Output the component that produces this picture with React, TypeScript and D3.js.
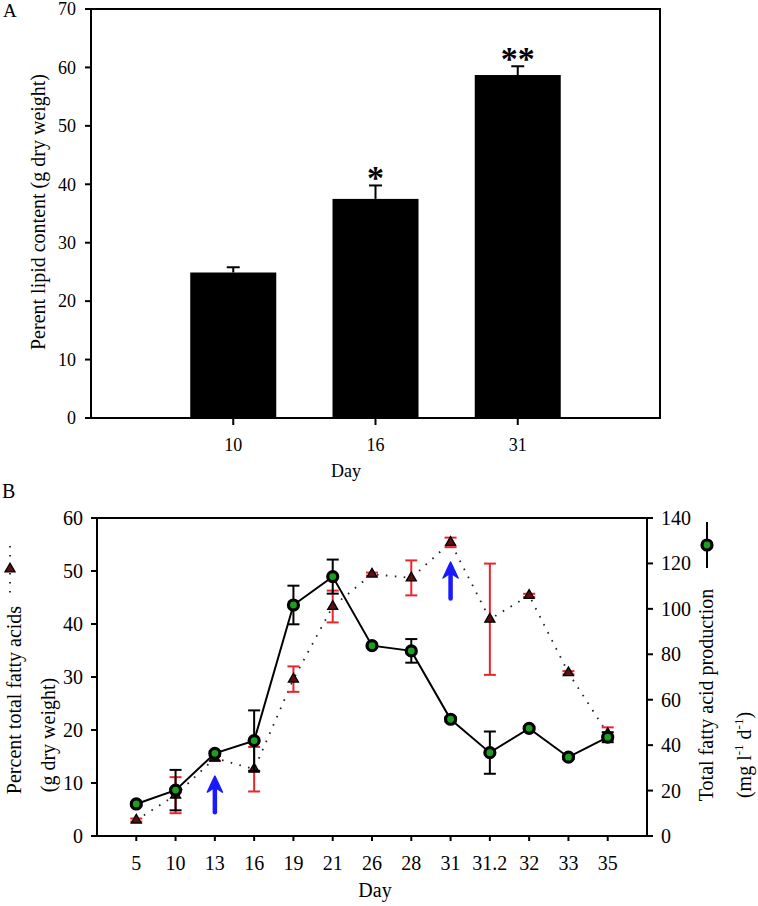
import React from "react";
import * as d3 from "d3";

// ---------- Panel A data ----------
const barDays = ["10", "16", "31"];
const barValues = [24.9, 37.5, 58.7];
const barErrors = [0.9, 2.3, 1.5];
const barSig = ["", "*", "**"];
const aTicks = [0, 10, 20, 30, 40, 50, 60, 70];

// ---------- Panel B data ----------
const days = ["5", "10", "13", "16", "19", "21", "26", "28", "31", "31.2", "32", "33", "35"];
const fattyPct = [3.0, 7.7, 14.7, 12.6, 29.6, 43.3, 49.4, 48.7, 55.4, 40.9, 45.4, 30.8, 19.3];
const fattyPctErr = [0.3, 3.4, 0.5, 4.2, 2.4, 3.0, 0.3, 3.3, 0.9, 10.5, 0.3, 0.3, 1.2];
const fattyProd = [14.1, 20.2, 36.4, 42.0, 101.7, 114.2, 83.8, 81.5, 51.4, 36.7, 47.4, 34.7, 43.5];
const fattyProdErr = [0.8, 8.9, 1.0, 13.3, 8.5, 7.5, 0.8, 5.2, 1.0, 9.3, 0.8, 0.8, 2.2];
const leftTicks = [0, 10, 20, 30, 40, 50, 60];
const rightTicks = [0, 20, 40, 60, 80, 100, 120, 140];
const arrowDays = ["13", "31"];
const arrowFrom = [4.5, 44.8];
const arrowTo = [11.3, 51.7];

const FONT = "'Liberation Serif','Times New Roman',serif";

export default function App() {
  // Panel A scales
  const ax = d3.scalePoint<string>().domain(barDays).range([91, 660]).padding(1);
  const ay = d3.scaleLinear().domain([0, 70]).range([418, 9]);
  const barW = 86;

  // Panel B scales
  const bx = d3.scalePoint<string>().domain(days).range([97, 647]).padding(1);
  const byL = d3.scaleLinear().domain([0, 60]).range([836, 518]);
  const byR = d3.scaleLinear().domain([0, 140]).range([836, 518]);

  const pctLine = d3
    .line<number>()
    .x((_, i) => bx(days[i]) as number)
    .y((d) => byL(d));
  const prodLine = d3
    .line<number>()
    .x((_, i) => bx(days[i]) as number)
    .y((d) => byR(d));
  const tri = d3.symbol().type(d3.symbolTriangle).size(44)() as string;
  const capB = 6;
  const circleFill = "#1e9e1e";

  return (
    <svg
      width={758}
      height={906}
      style={{ position: "absolute", left: 0, top: 0, background: "#fff" }}
      fontFamily={FONT}
    >
      {/* ================= Panel A ================= */}
      <text x={3} y={17} fontSize={19}>A</text>
      {/* bars */}
      {barDays.map((d, i) => {
        const cx = ax(d) as number;
        const top = ay(barValues[i]);
        const et = ay(barValues[i] + barErrors[i]);
        return (
          <g key={"bar" + d}>
            <rect x={cx - barW / 2} y={top} width={barW} height={ay(0) - top} fill="#000" />
            <line x1={cx} x2={cx} y1={top} y2={et} stroke="#000" strokeWidth={2} />
            <line x1={cx - 6.5} x2={cx + 6.5} y1={et} y2={et} stroke="#000" strokeWidth={2} />
            {barSig[i] && (
              <text x={cx} y={et + 4} fontSize={34} fontWeight="bold" textAnchor="middle">
                {barSig[i]}
              </text>
            )}
          </g>
        );
      })}
      {/* frame */}
      <rect x={91} y={9} width={569} height={409} fill="none" stroke="#000" strokeWidth={2} />
      {/* y ticks */}
      {aTicks.map((t) => (
        <g key={"at" + t}>
          <line x1={85} x2={91} y1={ay(t)} y2={ay(t)} stroke="#000" strokeWidth={2} />
          <text x={76} y={ay(t)} dy="0.35em" fontSize={18} textAnchor="end">{t}</text>
        </g>
      ))}
      {/* x ticks */}
      {barDays.map((d) => (
        <g key={"ax" + d}>
          <line x1={ax(d)} x2={ax(d)} y1={418} y2={425} stroke="#000" strokeWidth={2} />
          <text x={ax(d)} y={451} fontSize={18} textAnchor="middle">{d}</text>
        </g>
      ))}
      <text x={346} y={477} fontSize={18} textAnchor="middle">Day</text>
      <text transform="translate(45,212) rotate(-90)" fontSize={20} textAnchor="middle">
        Perent lipid content (g dry weight)
      </text>

      {/* ================= Panel B ================= */}
      <text x={2} y={498} fontSize={20}>B</text>

      {/* triangle series: dotted line */}
      <path d={pctLine(fattyPct) as string} fill="none" stroke="#222" strokeWidth={1.8} strokeDasharray="1.6 7.4" />
      {/* red error bars */}
      {days.map((d, i) => {
        const cx = bx(d) as number;
        const t = byL(fattyPct[i] + fattyPctErr[i]);
        const b = byL(fattyPct[i] - fattyPctErr[i]);
        return (
          <g key={"pe" + d} stroke="#e8262b" strokeWidth={2}>
            <line x1={cx} x2={cx} y1={t} y2={b} />
            <line x1={cx - capB} x2={cx + capB} y1={t} y2={t} />
            <line x1={cx - capB} x2={cx + capB} y1={b} y2={b} />
          </g>
        );
      })}
      {/* triangles */}
      {days.map((d, i) => (
        <path
          key={"tr" + d}
          d={tri}
          transform={`translate(${bx(d)},${byL(fattyPct[i])})`}
          fill="#5a0f12"
          stroke="#000"
          strokeWidth={1.3}
        />
      ))}

      {/* circle series: black error bars */}
      {days.map((d, i) => {
        const cx = bx(d) as number;
        const t = byR(fattyProd[i] + fattyProdErr[i]);
        const b = byR(fattyProd[i] - fattyProdErr[i]);
        return (
          <g key={"ce" + d} stroke="#000" strokeWidth={2}>
            <line x1={cx} x2={cx} y1={t} y2={b} />
            <line x1={cx - capB} x2={cx + capB} y1={t} y2={t} />
            <line x1={cx - capB} x2={cx + capB} y1={b} y2={b} />
          </g>
        );
      })}
      <path d={prodLine(fattyProd) as string} fill="none" stroke="#000" strokeWidth={2} />
      {days.map((d, i) => (
        <circle
          key={"ci" + d}
          cx={bx(d)}
          cy={byR(fattyProd[i])}
          r={5}
          fill={circleFill}
          stroke="#000"
          strokeWidth={3.2}
        />
      ))}

      {/* blue arrows */}
      {arrowDays.map((d, i) => {
        const cx = bx(d) as number;
        const y0 = byL(arrowFrom[i]);
        const y1 = byL(arrowTo[i]);
        return (
          <g key={"ar" + d}>
            <line x1={cx} x2={cx} y1={y0} y2={y1 + 10} stroke="#1a1aff" strokeWidth={4.5} strokeLinecap="round" />
            <path
              d={`M${cx},${y1} L${cx - 7.5},${y1 + 16} L${cx},${y1 + 11} L${cx + 7.5},${y1 + 16} Z`}
              fill="#1a1aff"
              stroke="#1a1aff"
              strokeWidth={1.5}
              strokeLinejoin="round"
            />
          </g>
        );
      })}

      {/* frame */}
      <rect x={97} y={518} width={550} height={318} fill="none" stroke="#000" strokeWidth={2} />
      {/* left ticks */}
      {leftTicks.map((t) => (
        <g key={"lt" + t}>
          <line x1={91} x2={97} y1={byL(t)} y2={byL(t)} stroke="#000" strokeWidth={2} />
          <text x={83} y={byL(t)} dy="0.35em" fontSize={20} textAnchor="end">{t}</text>
        </g>
      ))}
      {/* right ticks */}
      {rightTicks.map((t) => (
        <g key={"rt" + t}>
          <line x1={647} x2={653} y1={byR(t)} y2={byR(t)} stroke="#000" strokeWidth={2} />
          <text x={661} y={byR(t)} dy="0.35em" fontSize={20} textAnchor="start">{t}</text>
        </g>
      ))}
      {/* x ticks */}
      {days.map((d) => (
        <g key={"bx" + d}>
          <line x1={bx(d)} x2={bx(d)} y1={836} y2={841} stroke="#000" strokeWidth={2} />
          <text x={bx(d)} y={870} fontSize={20} textAnchor="middle">{d}</text>
        </g>
      ))}
      <text x={375} y={897} fontSize={20} textAnchor="middle">Day</text>

      {/* left axis title + legend symbol */}
      <text transform="translate(21,700) rotate(-90)" fontSize={20} textAnchor="middle">
        Percent total fatty acids
      </text>
      <text transform="translate(55,735) rotate(-90)" fontSize={20} textAnchor="middle">
        (g dry weight)
      </text>
      <line x1={10} x2={10} y1={546} y2={594} stroke="#222" strokeWidth={1.8} strokeDasharray="1.6 7.4" />
      <path d={tri} transform="translate(10,569)" fill="#5a0f12" stroke="#000" strokeWidth={1.3} />

      {/* right axis title + legend symbol */}
      <text transform="translate(713,695) rotate(-90)" fontSize={20} textAnchor="middle">
        Total fatty acid production
      </text>
      <text transform="translate(751,755) rotate(-90)" fontSize={20} textAnchor="middle">
        (mg l<tspan dy={-8} fontSize={13}>-1</tspan>
        <tspan dy={8}> d</tspan>
        <tspan dy={-8} fontSize={13}>-1</tspan>
        <tspan dy={8}>)</tspan>
      </text>
      <line x1={707} x2={707} y1={522} y2={568} stroke="#000" strokeWidth={2} />
      <circle cx={707} cy={545} r={5} fill={circleFill} stroke="#000" strokeWidth={3.2} />
    </svg>
  );
}
